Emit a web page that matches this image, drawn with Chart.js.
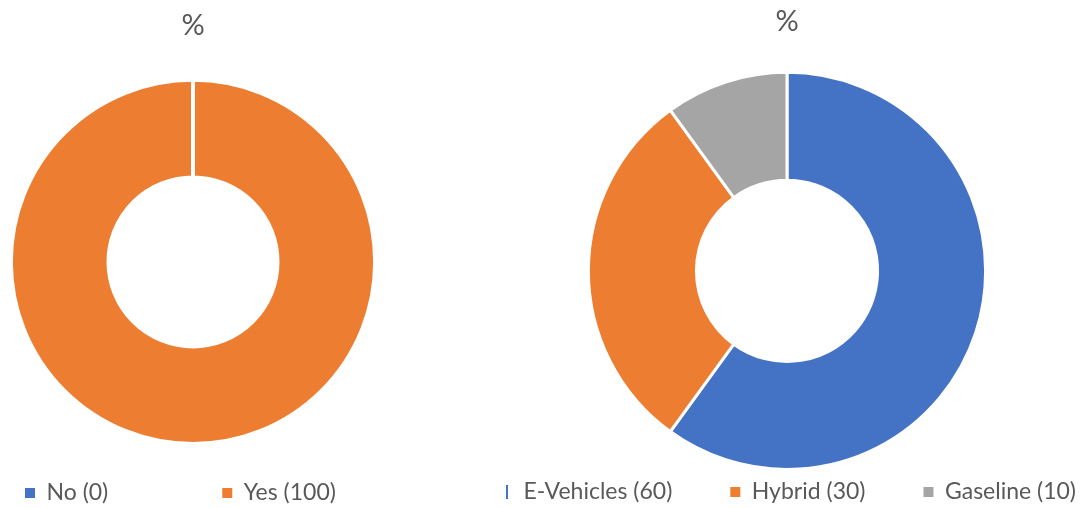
<!DOCTYPE html>
<html>
<head>
<meta charset="utf-8">
<script src="https://cdn.jsdelivr.net/npm/chart.js@4/dist/chart.umd.min.js"></script>
<style>
  html, body { margin: 0; padding: 0; background: #fff; overflow: hidden; }
  body { width: 1091px; height: 508px; position: relative; }
  .box { position: absolute; top: 0; height: 508px; }
  #left-box { left: 0; width: 386px; }
  #right-box { left: 487px; width: 604px; }
</style>
</head>
<body>
<div class="box" id="left-box"><canvas id="usageChart"></canvas></div>
<div class="box" id="right-box"><canvas id="typeChart"></canvas></div>
<script>
// data
const usageTitle = "%";
const usageLabels = ["No (0)", "Yes (100)"];
const usageValues = [0, 100];

const typeTitle = "%";
const typeLabels = ["E-Vehicles (60)", "Hybrid (30)", "Gaseline (10)"];
const typeValues = [60, 30, 10];

const usageColors = ["#4472C4", "#ED7D31"];
const typeColors = ["#4472C4", "#ED7D31", "#A5A5A5"];
const textColor = "#595959";
const fontFamily = "Lato, 'Open Sans', sans-serif";

// moves the legend row to a fixed spot (canvas px), so labels.padding only sets the gap between items
const legendPlacer = {
  id: "legendPlacer",
  afterLayout(chart, args, opts) {
    const lg = chart.legend;
    if (!lg || opts.x == null) return;
    const pad = lg.options.labels.padding;
    lg.left = opts.x - pad;
    lg.right = lg.left + 10000;
    lg.top = opts.y - pad;
    lg.bottom = opts.y + 40;
  }
};

function makeLabels(lineFirst) {
  return (chart) => {
    const items = Chart.overrides.doughnut.plugins.legend.labels.generateLabels(chart);
    return items.map((it, i) => {
      it.pointStyle = "rect";
      it.lineWidth = 0;
      it.strokeStyle = it.fillStyle;
      if (lineFirst && i === 0) {
        it.pointStyle = "line";
        it.rotation = 90;
        it.lineWidth = 2;
      }
      return it;
    });
  };
}

function doughnut(canvasId, cfg) {
  return new Chart(document.getElementById(canvasId), {
    type: "doughnut",
    data: {
      labels: cfg.labels,
      datasets: [{
        data: cfg.values,
        backgroundColor: cfg.colors,
        borderColor: "#ffffff",
        borderWidth: cfg.border,
        hoverOffset: 0
      }]
    },
    options: {
      responsive: true,
      maintainAspectRatio: false,
      animation: false,
      cutout: cfg.cutout,
      events: [],
      layout: { padding: cfg.padding },
      plugins: {
        tooltip: { enabled: false },
        title: {
          display: true,
          text: cfg.title,
          color: textColor,
          font: { family: fontFamily, size: 29, weight: "normal" },
          padding: cfg.titlePadding
        },
        legend: {
          position: "bottom",
          align: "start",
          maxHeight: cfg.legendHeight,
          labels: {
            usePointStyle: true,
            boxWidth: 10,
            boxHeight: 10,
            padding: cfg.gap,
            color: textColor,
            font: { family: fontFamily, size: 23 },
            generateLabels: makeLabels(cfg.lineFirst)
          }
        },
        legendPlacer: { x: cfg.legendX, y: cfg.legendY }
      }
    },
    plugins: [legendPlacer]
  });
}

doughnut("usageChart", {
  labels: usageLabels,
  values: usageValues,
  colors: usageColors,
  title: usageTitle,
  border: 4,
  cutout: "46.4%",
  padding: { bottom: 22 },
  titlePadding: { top: 8, bottom: 35 },
  legendHeight: 40,
  gap: 114,
  legendX: 25,
  legendY: 481.5,
  lineFirst: false
});

doughnut("typeChart", {
  labels: typeLabels,
  values: typeValues,
  colors: typeColors,
  title: typeTitle,
  border: 3,
  cutout: "45.6%",
  padding: { right: 4, bottom: 7 },
  titlePadding: { top: 4, bottom: 32 },
  legendHeight: 30,
  gap: 58,
  legendX: 15,
  legendY: 480.5,
  lineFirst: true
});
</script>
</body>
</html>
